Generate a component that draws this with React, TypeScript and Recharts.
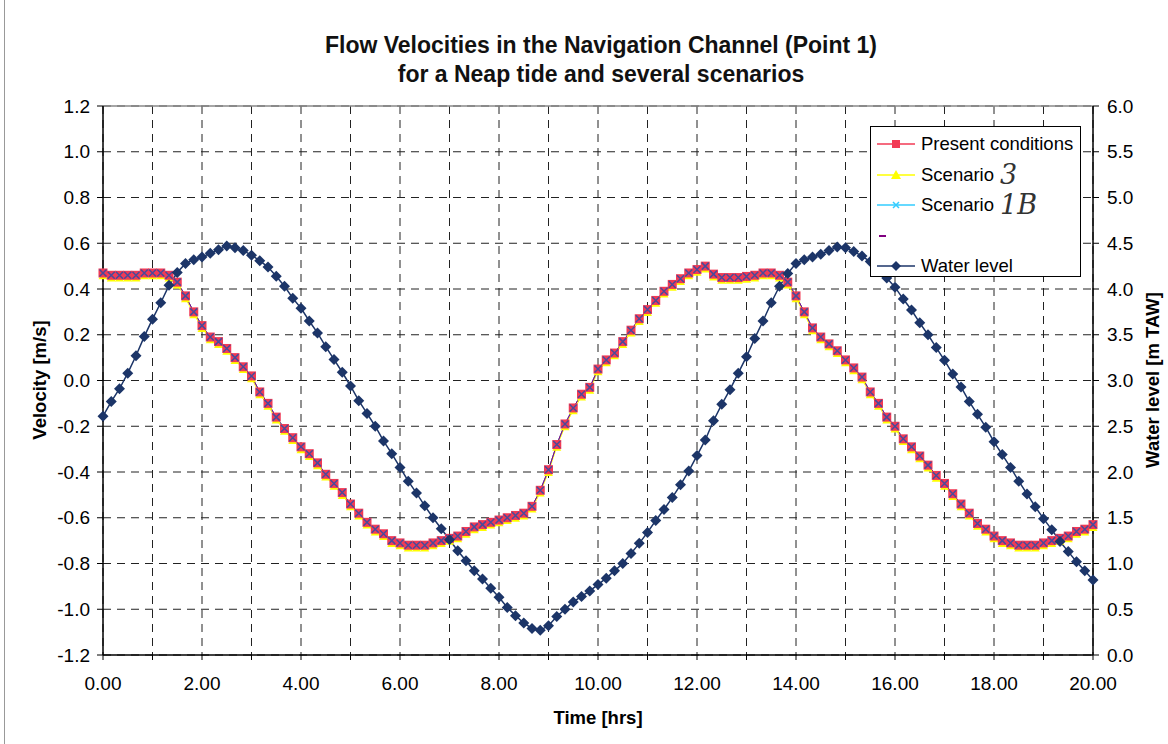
import React from "react";
import {
  ComposedChart,
  Line,
  XAxis,
  YAxis,
  CartesianGrid,
  ReferenceLine,
} from "recharts";

// time in minutes from start, one reading every 10 min
const minutes = [
  0, 10, 20, 30, 40, 50, 60, 70, 80, 90, 100, 110, 120, 130, 140, 150, 160, 170, 180, 190,
  200, 210, 220, 230, 240, 250, 260, 270, 280, 290, 300, 310, 320, 330, 340, 350, 360, 370, 380, 390,
  400, 410, 420, 430, 440, 450, 460, 470, 480, 490, 500, 510, 520, 530, 540, 550, 560, 570, 580, 590,
  600, 610, 620, 630, 640, 650, 660, 670, 680, 690, 700, 710, 720, 730, 740, 750, 760, 770, 780, 790,
  800, 810, 820, 830, 840, 850, 860, 870, 880, 890, 900, 910, 920, 930, 940, 950, 960, 970, 980, 990,
  1000, 1010, 1020, 1030, 1040, 1050, 1060, 1070, 1080, 1090, 1100, 1110, 1120, 1130, 1140, 1150, 1160, 1170, 1180, 1190,
  1200,
];

const presentConditions = [
  0.47, 0.46, 0.46, 0.46, 0.46, 0.47, 0.47, 0.47, 0.46, 0.43, 0.37, 0.3, 0.24, 0.19, 0.17, 0.14, 0.1, 0.06, 0.02, -0.05,
  -0.1, -0.16, -0.21, -0.25, -0.29, -0.32, -0.36, -0.41, -0.45, -0.49, -0.54, -0.58, -0.62, -0.65, -0.67, -0.7, -0.71, -0.72, -0.72, -0.72,
  -0.71, -0.7, -0.69, -0.68, -0.66, -0.64, -0.63, -0.62, -0.61, -0.6, -0.59, -0.58, -0.55, -0.48, -0.39, -0.28, -0.19, -0.12, -0.06, -0.03,
  0.05, 0.09, 0.12, 0.17, 0.22, 0.27, 0.31, 0.35, 0.39, 0.42, 0.445, 0.47, 0.485, 0.5, 0.465, 0.45, 0.45, 0.45, 0.455, 0.46,
  0.47, 0.47, 0.46, 0.43, 0.37, 0.3, 0.23, 0.19, 0.16, 0.13, 0.09, 0.055, 0.015, -0.05, -0.1, -0.16, -0.2, -0.255, -0.29, -0.33,
  -0.37, -0.415, -0.45, -0.495, -0.54, -0.58, -0.625, -0.65, -0.68, -0.7, -0.71, -0.72, -0.72, -0.72, -0.71, -0.7, -0.69, -0.68, -0.66, -0.65,
  -0.63,
];

const scenario3 = [
  0.46, 0.45, 0.45, 0.45, 0.45, 0.46, 0.46, 0.46, 0.45, 0.42, 0.36, 0.29, 0.23, 0.18, 0.16, 0.13, 0.09, 0.05, 0.01, -0.06,
  -0.11, -0.17, -0.22, -0.26, -0.3, -0.33, -0.37, -0.42, -0.46, -0.5, -0.55, -0.59, -0.63, -0.66, -0.68, -0.71, -0.72, -0.73, -0.73, -0.73,
  -0.72, -0.71, -0.7, -0.69, -0.67, -0.65, -0.64, -0.63, -0.62, -0.61, -0.6, -0.59, -0.56, -0.49, -0.4, -0.29, -0.2, -0.13, -0.07, -0.04,
  0.04, 0.08, 0.11, 0.16, 0.21, 0.26, 0.3, 0.34, 0.38, 0.41, 0.435, 0.46, 0.475, 0.49, 0.455, 0.44, 0.44, 0.44, 0.445, 0.45,
  0.46, 0.46, 0.45, 0.42, 0.36, 0.29, 0.22, 0.18, 0.15, 0.12, 0.08, 0.045, 0.005, -0.06, -0.11, -0.17, -0.21, -0.265, -0.3, -0.34,
  -0.38, -0.425, -0.46, -0.505, -0.55, -0.59, -0.635, -0.66, -0.69, -0.71, -0.72, -0.73, -0.73, -0.73, -0.72, -0.71, -0.7, -0.69, -0.67, -0.66,
  -0.64,
];

const scenario1B = [
  0.47, 0.46, 0.46, 0.46, 0.46, 0.47, 0.47, 0.47, 0.46, 0.43, 0.37, 0.3, 0.24, 0.19, 0.17, 0.14, 0.1, 0.06, 0.02, -0.05,
  -0.1, -0.16, -0.21, -0.25, -0.29, -0.32, -0.36, -0.41, -0.45, -0.49, -0.54, -0.58, -0.62, -0.65, -0.67, -0.7, -0.71, -0.72, -0.72, -0.72,
  -0.71, -0.7, -0.69, -0.68, -0.66, -0.64, -0.63, -0.62, -0.61, -0.6, -0.59, -0.58, -0.55, -0.48, -0.39, -0.28, -0.19, -0.12, -0.06, -0.03,
  0.05, 0.09, 0.12, 0.17, 0.22, 0.27, 0.31, 0.35, 0.39, 0.42, 0.445, 0.47, 0.485, 0.5, 0.465, 0.45, 0.45, 0.45, 0.455, 0.46,
  0.47, 0.47, 0.46, 0.43, 0.37, 0.3, 0.23, 0.19, 0.16, 0.13, 0.09, 0.055, 0.015, -0.05, -0.1, -0.16, -0.2, -0.255, -0.29, -0.33,
  -0.37, -0.415, -0.45, -0.495, -0.54, -0.58, -0.625, -0.65, -0.68, -0.7, -0.71, -0.72, -0.72, -0.72, -0.71, -0.7, -0.69, -0.68, -0.66, -0.65,
  -0.63,
];

const waterLevel = [
  2.61, 2.77, 2.91, 3.08, 3.27, 3.48, 3.67, 3.85, 4.04, 4.18, 4.28, 4.32, 4.35, 4.39, 4.43, 4.47, 4.45, 4.42, 4.37, 4.31,
  4.24, 4.14, 4.03, 3.9, 3.79, 3.65, 3.52, 3.37, 3.23, 3.09, 2.94, 2.78, 2.64, 2.5, 2.34, 2.2, 2.05, 1.9, 1.77, 1.63,
  1.5, 1.38, 1.26, 1.14, 1.03, 0.92, 0.83, 0.73, 0.63, 0.52, 0.43, 0.35, 0.29, 0.27, 0.32, 0.42, 0.5, 0.58, 0.64, 0.7,
  0.77, 0.84, 0.92, 1.0, 1.11, 1.22, 1.34, 1.47, 1.59, 1.72, 1.86, 2.01, 2.18, 2.35, 2.56, 2.74, 2.9, 3.08, 3.26, 3.46,
  3.65, 3.85, 4.03, 4.17, 4.28, 4.32, 4.35, 4.38, 4.42, 4.46, 4.45, 4.41, 4.36, 4.3, 4.22, 4.12, 4.02, 3.89, 3.77, 3.63,
  3.5, 3.36, 3.22, 3.07, 2.93, 2.77, 2.63, 2.49, 2.33, 2.19, 2.05, 1.9, 1.76, 1.62, 1.49, 1.37, 1.24, 1.13, 1.02, 0.92,
  0.82,
];

const hourTicks = [0, 60, 120, 180, 240, 300, 360, 420, 480, 540, 600, 660, 720, 780, 840, 900, 960, 1020, 1080, 1140, 1200];
const velocityTicks = [-1.2, -1.0, -0.8, -0.6, -0.4, -0.2, 0.0, 0.2, 0.4, 0.6, 0.8, 1.0, 1.2];
const levelTicks = [0, 0.5, 1, 1.5, 2, 2.5, 3, 3.5, 4, 4.5, 5, 5.5, 6];

const data = minutes.map((m, i) => ({
  minute: m,
  present: presentConditions[i],
  scen3: scenario3[i],
  scen1b: scenario1B[i],
  extra: scenario1B[i],
  level: waterLevel[i],
}));

const RED = "#F23A55";
const YELLOW = "#FFFF00";
const BLUE = "#33CCFF";
const PURPLE = "#800080";
const NAVY = "#1C3568";
const FONT = "Arial, 'Liberation Sans', sans-serif";

const SquareDot = (p: any) =>
  p.cx == null ? null : (
    <rect key={`sq-${p.index}`} x={p.cx - 4.5} y={p.cy - 4.5} width={9} height={9} fill={RED} />
  );

const TriangleDot = (p: any) =>
  p.cx == null ? null : (
    <path key={`tr-${p.index}`} d={`M${p.cx},${p.cy - 3.5} L${p.cx + 4.5},${p.cy + 4} L${p.cx - 4.5},${p.cy + 4} Z`} fill={YELLOW} />
  );

const XDot = (p: any) =>
  p.cx == null ? null : (
    <path
      key={`x-${p.index}`}
      d={`M${p.cx - 3.5},${p.cy - 3.5} L${p.cx + 3.5},${p.cy + 3.5} M${p.cx + 3.5},${p.cy - 3.5} L${p.cx - 3.5},${p.cy + 3.5}`}
      stroke="#4a4a9a"
      strokeWidth={1.5}
    />
  );

const DiamondDot = (p: any) =>
  p.cx == null ? null : (
    <path key={`dm-${p.index}`} d={`M${p.cx},${p.cy - 5.5} L${p.cx + 5.5},${p.cy} L${p.cx},${p.cy + 5.5} L${p.cx - 5.5},${p.cy} Z`} fill={NAVY} />
  );

const legendRows = [
  { label: "Present conditions", note: "", color: RED, marker: "square" },
  { label: "Scenario", note: "3", color: YELLOW, marker: "triangle" },
  { label: "Scenario", note: "1B", color: BLUE, marker: "x" },
  { label: "", note: "", color: PURPLE, marker: "none" },
  { label: "Water level", note: "", color: NAVY, marker: "diamond" },
];

const LegendIcon = ({ color, marker }: { color: string; marker: string }) => (
  <svg width={40} height={12} style={{ display: "block" }}>
    {marker === "none" ? (
      <line x1={2} y1={6} x2={9} y2={6} stroke={color} strokeWidth={2} />
    ) : (
      <line x1={0} y1={6} x2={38} y2={6} stroke={color} strokeWidth={1.5} />
    )}
    {marker === "square" && <rect x={15} y={2} width={8} height={8} fill={color} />}
    {marker === "triangle" && <path d="M19,1 L24,10 L14,10 Z" fill={color} />}
    {marker === "x" && <path d="M16,3 L22,9 M22,3 L16,9" stroke={color} strokeWidth={1.5} />}
    {marker === "diamond" && <path d="M19,1 L24,6 L19,11 L14,6 Z" fill={color} />}
  </svg>
);

export default function App() {
  return (
    <div
      style={{
        position: "fixed",
        left: 0,
        top: 0,
        width: 1168,
        height: 744,
        background: "#fff",
        fontFamily: FONT,
      }}
    >
      <div style={{ position: "absolute", left: 4, top: 0, width: 1, height: 744, background: "#999" }} />
      <div
        style={{
          position: "absolute",
          left: 0,
          width: 1202,
          top: 31,
          textAlign: "center",
          fontWeight: "bold",
          fontSize: 23,
          lineHeight: "29px",
          color: "#111",
        }}
      >
        Flow Velocities in the Navigation Channel (Point 1)
        <br />
        for a Neap tide and several scenarios
      </div>

      <ComposedChart width={1168} height={744} data={data} margin={{ top: 106, right: 0, bottom: 0, left: 0 }}>
        <CartesianGrid
          yAxisId="left"
          stroke="#222"
          strokeDasharray="8 6"
          strokeWidth={1}
        />
        <XAxis
          type="number"
          dataKey="minute"
          domain={[0, 1200]}
          ticks={hourTicks}
          interval={0}
          height={89}
          tickFormatter={(m: number) => (m % 120 === 0 ? (m / 60).toFixed(2) : "")}
          tick={{ fontSize: 19, fill: "#000", fontFamily: FONT }}
          tickSize={5}
          tickMargin={17}
          axisLine={{ stroke: "#000", strokeWidth: 1.5 }}
          tickLine={{ stroke: "#000" }}
        />
        <YAxis
          yAxisId="left"
          domain={[-1.2, 1.2]}
          ticks={velocityTicks}
          interval={0}
          width={103}
          allowDataOverflow
          tickFormatter={(v: number) => v.toFixed(1)}
          tick={{ fontSize: 19, fill: "#000", fontFamily: FONT }}
          tickSize={6}
          tickMargin={7}
          axisLine={{ stroke: "#000", strokeWidth: 1.5 }}
          tickLine={{ stroke: "#000" }}
        />
        <YAxis
          yAxisId="right"
          orientation="right"
          domain={[0, 6]}
          ticks={levelTicks}
          interval={0}
          width={75}
          allowDataOverflow
          tickFormatter={(v: number) => v.toFixed(1)}
          tick={{ fontSize: 19, fill: "#000", fontFamily: FONT }}
          tickSize={6}
          tickMargin={8}
          axisLine={{ stroke: "#000", strokeWidth: 1.5 }}
          tickLine={{ stroke: "#000" }}
        />
        <ReferenceLine yAxisId="left" y={1.2} stroke="#888" strokeWidth={1.5} />

        <Line yAxisId="left" dataKey="scen3" stroke={YELLOW} strokeWidth={1} dot={TriangleDot} isAnimationActive={false} />
        <Line yAxisId="left" dataKey="present" stroke={RED} strokeWidth={1} dot={SquareDot} isAnimationActive={false} />
        <Line yAxisId="left" dataKey="scen1b" stroke={BLUE} strokeWidth={1} dot={XDot} isAnimationActive={false} />
        <Line yAxisId="left" dataKey="extra" stroke={PURPLE} strokeWidth={1} dot={false} isAnimationActive={false} />
        <Line yAxisId="right" dataKey="level" stroke={NAVY} strokeWidth={1.5} dot={DiamondDot} isAnimationActive={false} />
      </ComposedChart>

      <div
        style={{
          position: "absolute",
          left: 40,
          top: 380,
          transform: "translate(-50%, -50%) rotate(-90deg)",
          whiteSpace: "nowrap",
          fontWeight: "bold",
          fontSize: 18.5,
        }}
      >
        Velocity [m/s]
      </div>
      <div
        style={{
          position: "absolute",
          left: 1153,
          top: 380,
          transform: "translate(-50%, -50%) rotate(-90deg)",
          whiteSpace: "nowrap",
          fontWeight: "bold",
          fontSize: 18.5,
        }}
      >
        Water level [m TAW]
      </div>
      <div
        style={{
          position: "absolute",
          left: 598,
          top: 718,
          transform: "translate(-50%, -50%)",
          whiteSpace: "nowrap",
          fontWeight: "bold",
          fontSize: 18.5,
        }}
      >
        Time [hrs]
      </div>

      <div
        style={{
          position: "absolute",
          left: 870,
          top: 126,
          width: 211,
          height: 151,
          border: "1px solid #000",
          background: "#fff",
          boxSizing: "border-box",
          paddingTop: 2,
        }}
      >
        {legendRows.map((r, i) => (
          <div key={i} style={{ display: "flex", alignItems: "center", height: 30.5, paddingLeft: 6 }}>
            <LegendIcon color={r.color} marker={r.marker} />
            <span style={{ fontSize: 18.5, marginLeft: 4, color: "#000" }}>{r.label}</span>
            {r.note && (
              <span
                style={{
                  fontSize: 27,
                  marginLeft: 6,
                  color: "#333",
                  fontFamily: "'DejaVu Serif', serif",
                  fontStyle: "italic",
                  lineHeight: "20px",
                }}
              >
                {r.note}
              </span>
            )}
          </div>
        ))}
      </div>
    </div>
  );
}
